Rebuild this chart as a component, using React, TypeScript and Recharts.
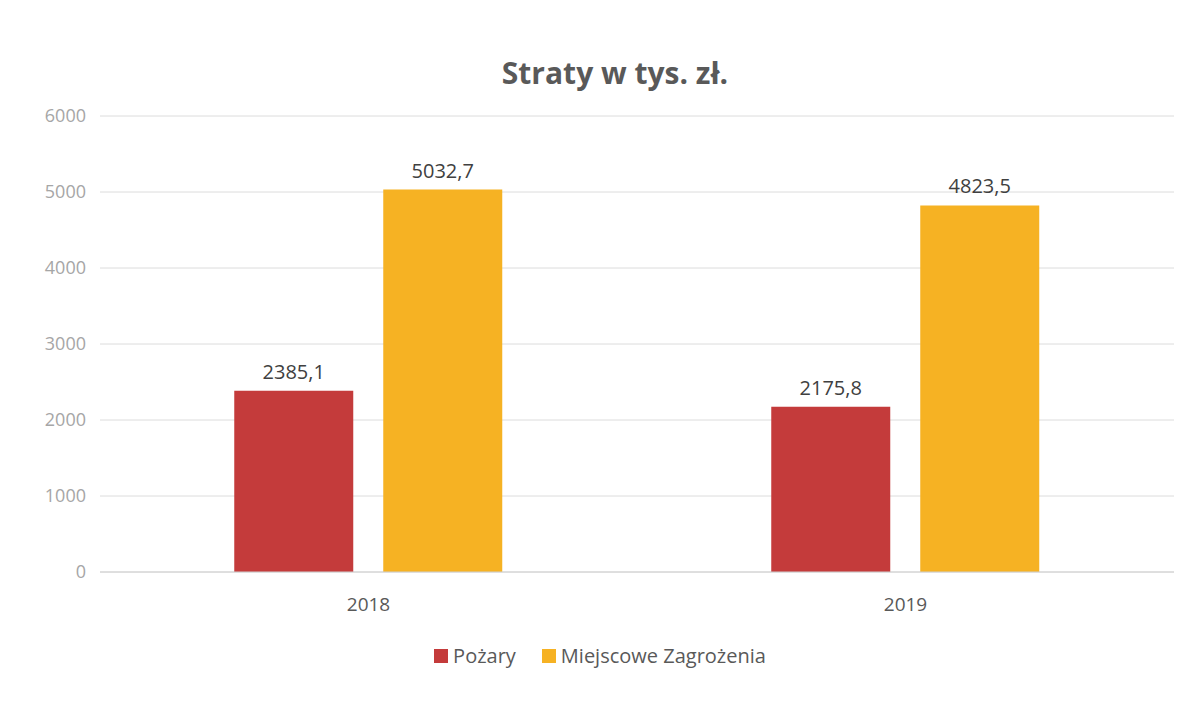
import React from 'react';
import { BarChart, Bar, XAxis, YAxis, CartesianGrid, LabelList } from 'recharts';

const years = ['2018', '2019'];
const pozary = [2385.1, 2175.8];
const miejscowe = [5032.7, 4823.5];
const yTicks = [0, 1000, 2000, 3000, 4000, 5000, 6000];

const seriesNames = ['Pożary', 'Miejscowe Zagrożenia'];
const seriesColors = ['#c43b3b', '#f6b223'];

const data = years.map((year, i) => ({ year, pozary: pozary[i], miejscowe: miejscowe[i] }));

const FONT = '"Open Sans", "Noto Sans", sans-serif';
const fmt = (v: any) => String(v).replace('.', ',');

export default function App() {
  return (
    <div style={{ position: 'absolute', left: 0, top: 0, width: 1196, height: 703, background: '#fff', fontFamily: FONT }}>
      <div style={{ position: 'absolute', top: 52, left: 0, width: 1230, textAlign: 'center', fontSize: 30, fontWeight: 700, color: '#595959' }}>
        Straty w tys. zł.
      </div>
      <BarChart
        width={1196}
        height={703}
        data={data}
        margin={{ top: 116, right: 22, bottom: 101, left: 0 }}
        barCategoryGap="25%"
        barGap={30}
      >
        <CartesianGrid vertical={false} stroke="#dcdcdc" />
        <XAxis
          dataKey="year"
          axisLine={{ stroke: '#d0d0d0' }}
          tickLine={false}
          tick={{ fontSize: 19, fill: '#595959', fontFamily: FONT }}
          tickMargin={20}
        />
        <YAxis
          width={100}
          domain={[0, 6000]}
          ticks={yTicks}
          axisLine={false}
          tickLine={false}
          tickMargin={8}
          tick={{ fontSize: 18, fill: '#a6a6a6', fontFamily: FONT }}
        />
        <Bar dataKey="pozary" name={seriesNames[0]} fill={seriesColors[0]} isAnimationActive={false}>
          <LabelList dataKey="pozary" position="top" offset={12} formatter={fmt} style={{ fontSize: 20, fill: '#404040', fontFamily: FONT }} />
        </Bar>
        <Bar dataKey="miejscowe" name={seriesNames[1]} fill={seriesColors[1]} isAnimationActive={false}>
          <LabelList dataKey="miejscowe" position="top" offset={12} formatter={fmt} style={{ fontSize: 20, fill: '#404040', fontFamily: FONT }} />
        </Bar>
      </BarChart>
      <div style={{ position: 'absolute', top: 642, left: 0, width: 1200, display: 'flex', justifyContent: 'center', gap: 26, fontSize: 20, color: '#595959' }}>
        {seriesNames.map((name, i) => (
          <div key={name} style={{ display: 'flex', alignItems: 'center', gap: 5 }}>
            <span style={{ display: 'inline-block', width: 14, height: 14, background: seriesColors[i] }} />
            <span>{name}</span>
          </div>
        ))}
      </div>
    </div>
  );
}
